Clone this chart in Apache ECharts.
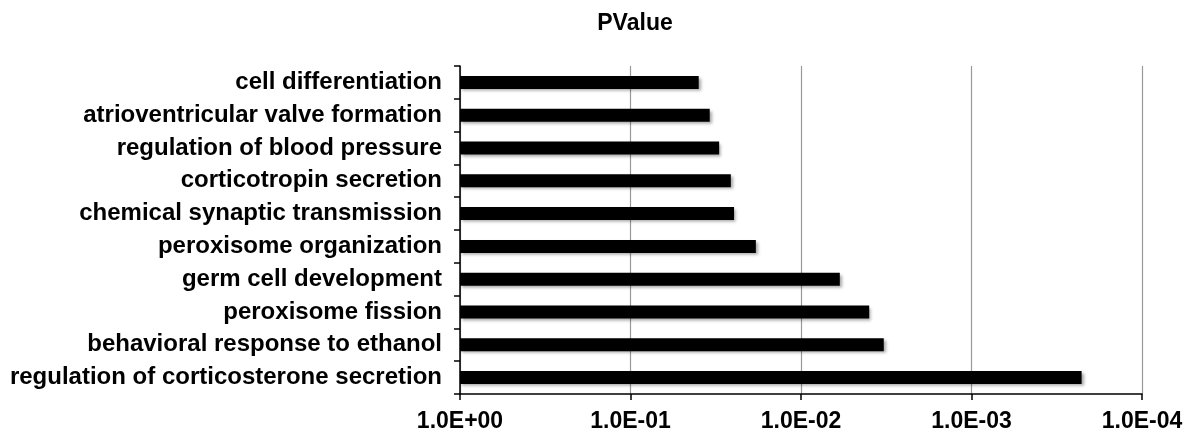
<!DOCTYPE html>
<html>

<head>
    <meta charset="utf-8">
    <title>PValue</title>
    <script src="https://cdn.jsdelivr.net/npm/echarts@6/dist/echarts.min.js"></script>
    <style>
        html, body { margin: 0; padding: 0; background: #fff; }
    </style>
</head>

<body>
<div id="main" style="width: 1197px;height:433px;"></div>
<script>
    // categories top to bottom
    var terms = [
        'cell differentiation',
        'atrioventricular valve formation',
        'regulation of blood pressure',
        'corticotropin secretion',
        'chemical synaptic transmission',
        'peroxisome organization',
        'germ cell development',
        'peroxisome fission',
        'behavioral response to ethanol',
        'regulation of corticosterone secretion'
    ];
    var pValues = [0.0398, 0.0343, 0.0302, 0.0258, 0.0247, 0.0184, 0.00592, 0.00398, 0.00327, 0.000226];
    var tickValues = [1, 0.1, 0.01, 0.001, 0.0001];

    function sciLabel(v) {
        var e = Math.round(Math.log10(v));
        var a = Math.abs(e);
        return '1.0E' + (e < 0 ? '-' : '+') + (a < 10 ? '0' + a : a);
    }

    var font = "'Liberation Sans', Arial, Helvetica, sans-serif";
    var myChart = echarts.init(document.getElementById('main'));

    var option = {
        animation: false,
        title: {
            text: 'PValue',
            left: 630,
            textAlign: 'center',
            top: 7,
            textStyle: { fontSize: 23, fontWeight: 'bold', color: '#000', fontFamily: font }
        },
        grid: { left: 460, right: 55, top: 66, bottom: 39, containLabel: false },
        xAxis: {
            type: 'log',
            logBase: 10,
            min: tickValues[tickValues.length - 1],
            max: tickValues[0],
            inverse: true,
            axisLine: { show: true, lineStyle: { color: '#000', width: 1.5 } },
            axisTick: { show: true, length: 6, lineStyle: { color: '#000', width: 1.5 } },
            splitLine: { show: true, lineStyle: { color: '#999', width: 1.2 } },
            axisLabel: {
                formatter: sciLabel,
                margin: 16,
                fontSize: 23,
                fontWeight: 'bold',
                color: '#000',
                fontFamily: font
            }
        },
        yAxis: {
            type: 'category',
            data: terms,
            inverse: true,
            axisLine: { show: true, lineStyle: { color: '#000', width: 1.5 } },
            axisTick: { show: true, length: 6, lineStyle: { color: '#000', width: 1.5 } },
            axisLabel: {
                margin: 18,
                fontSize: 24,
                fontWeight: 'bold',
                color: '#000',
                fontFamily: font
            }
        },
        series: [
            {
                type: 'bar',
                data: pValues,
                barWidth: 13,
                itemStyle: {
                    color: '#000',
                    shadowBlur: 3,
                    shadowOffsetX: 2,
                    shadowOffsetY: 2,
                    shadowColor: 'rgba(0,0,0,0.35)'
                }
            }
        ]
    };

    myChart.setOption(option);
</script>
</body>

</html>
